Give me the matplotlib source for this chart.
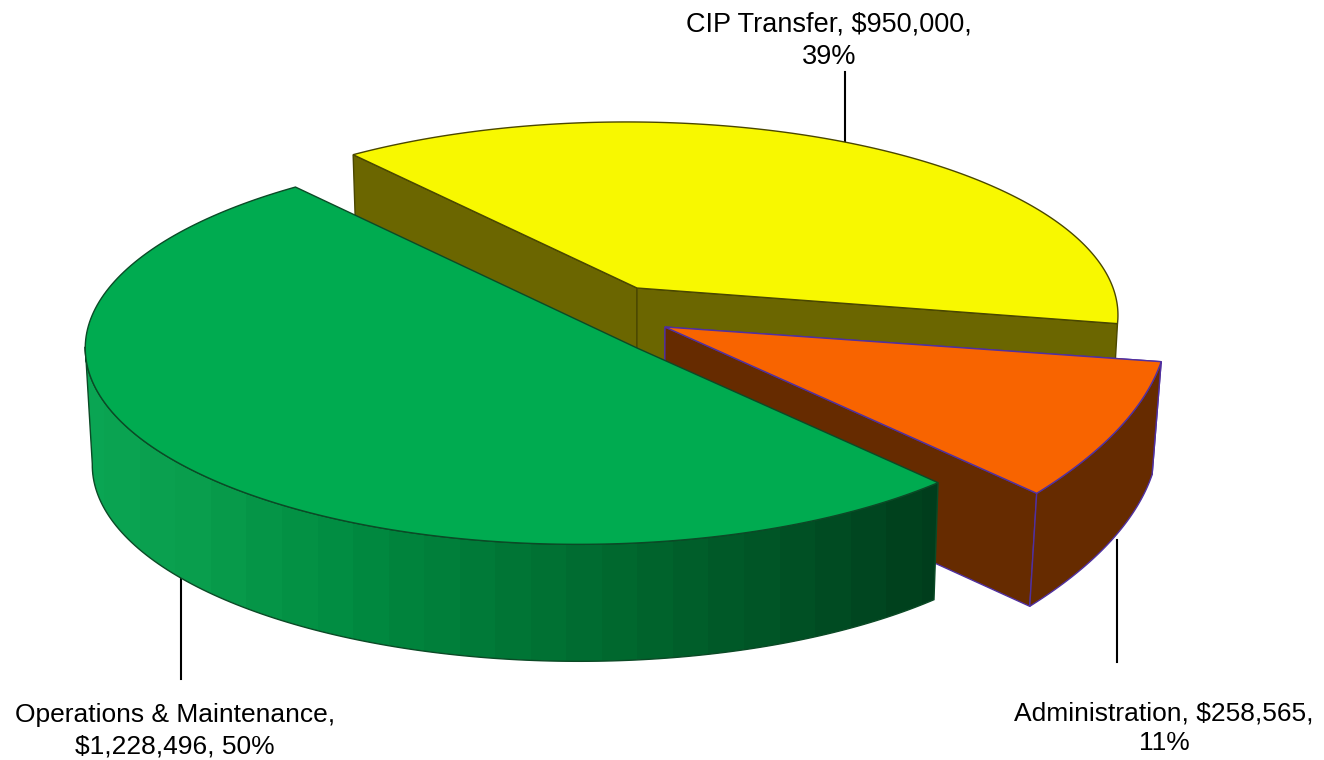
import numpy as np
import matplotlib
matplotlib.use("Agg")
import matplotlib.pyplot as plt
from matplotlib.colors import LinearSegmentedColormap
from matplotlib.patches import Polygon

plt.rcParams['font.family'] = ['Liberation Sans', 'DejaVu Sans']

categories = ["Operations & Maintenance", "CIP Transfer", "Administration"]
amounts = [1228496, 950000, 258565]
percents = ["50%", "39%", "11%"]

top_colors = ["#00ab50", "#f8f800", "#f86400"]
side_colors = ["#00853f", "#6b6600", "#662b00"]
edge_colors = ["#0b4a26", "#4a4700", "#5030a0"]

# perspective of each slice, fitted by eye: centre in pixels, scale, axes, horizon terms
shapes = [
    dict(c=(637, 348), s=1.0, a=(320.0, 147.0), b=(-367.6, 128.5), k=0.0778, m=-0.087, h=117, sx=0.987),
    dict(c=(637, 288), s=1.0, a=(315.4, 144.4), b=(-369.7, 122.3), k=-0.0933, m=-0.1062, h=110, sx=0.987),
    dict(c=(665, 327), s=1.585, a=(320.0, 147.0), b=(-367.6, 128.5), k=0.38, m=-0.378, h=113, sx=0.983),
]


def project(theta, shape):
    u, v = np.cos(theta), np.sin(theta)
    w = 1 + shape['k'] * u + shape['m'] * v
    x = shape['c'][0] + shape['s'] * (shape['a'][0] * u + shape['b'][0] * v) / w
    y = shape['c'][1] + shape['s'] * (shape['a'][1] * u + shape['b'][1] * v) / w
    return np.column_stack([x, y])


def drop(pts, shape):
    out = pts.copy().astype(float)
    out[:, 0] = 627 + (out[:, 0] - 627) * shape['sx']
    out[:, 1] += shape['h']
    return out


fig = plt.figure(figsize=(13.24, 7.6), dpi=100)
ax = fig.add_axes([0, 0, 1, 1])

fracs = np.array(amounts) / sum(amounts)
edges = np.deg2rad(-0.75 + np.concatenate([[0], np.cumsum(fracs)]) * 360)

rims = []
for i in range(3):
    rims.append(project(np.linspace(edges[i], edges[i + 1], 200), shapes[i]))


def draw_inner(i, z):
    shape = shapes[i]
    rim = rims[i]
    c = np.array([shape['c']], dtype=float)
    for p in [rim[:1], rim[-1:]]:
        quad = np.vstack([c, p, drop(p, shape), drop(c, shape)])
        ax.add_patch(Polygon(quad, closed=True, fc=side_colors[i], ec=edge_colors[i],
                             lw=1.0, zorder=z))


def draw_top(i, z):
    c = np.array([shapes[i]['c']], dtype=float)
    ax.add_patch(Polygon(np.vstack([c, rims[i]]), closed=True, fc=top_colors[i],
                         ec=edge_colors[i], lw=1.0, zorder=z))


# yellow at the back
draw_inner(1, 1)
draw_top(1, 2)

# orange in the middle
draw_inner(2, 3)
outer = np.vstack([rims[2], drop(rims[2], shapes[2])[::-1]])
ax.add_patch(Polygon(outer, closed=True, fc=side_colors[2], ec=edge_colors[2], lw=1.0, zorder=4))
draw_top(2, 5)

# green in front, wall only up to the leftmost point of the rim, shaded left to right
front = rims[0][:np.argmin(rims[0][:, 0]) + 1]
outer = np.vstack([front, drop(front, shapes[0])[::-1]])
cmap = LinearSegmentedColormap.from_list("wall", [(0, "#0aa553"), (0.12, "#0a9f4e"), (0.32, "#008a40"),
                                                  (0.62, "#00692f"), (1, "#003d1c")])
grad = np.round(np.linspace(0, 1, 854) * 24) / 24
img = ax.imshow(grad[None, :], extent=[86, 940, 700, 300], cmap=cmap, vmin=0, vmax=1,
                aspect='auto', zorder=6, interpolation='nearest')
clip = Polygon(outer, closed=True, transform=ax.transData, fc='none', ec=edge_colors[0], lw=1.0, zorder=7)
ax.add_patch(clip)
img.set_clip_path(clip)
draw_top(0, 8)

# leader lines
ax.plot([845, 845], [72, 143], color='black', lw=1.5, zorder=0)
ax.plot([181, 181], [574, 679], color='black', lw=1.5, zorder=0)
ax.plot([1117, 1117], [540, 662], color='black', lw=1.5, zorder=0)

# labels
ax.text(829, 41, f"{categories[1]}, ${amounts[1]:,},\n{percents[1]}", ha='center', va='center', fontsize=19.5, linespacing=1.31)
ax.text(175, 731, f"{categories[0]},\n${amounts[0]:,}, {percents[0]}", ha='center', va='center', fontsize=19, linespacing=1.37)
ax.text(1164, 728, f"{categories[2]}, ${amounts[2]:,},\n{percents[2]}", ha='center', va='center', fontsize=19, linespacing=1.28)

ax.set_xlim(0, 1324)
ax.set_ylim(760, 0)
ax.axis('off')

fig.savefig("out.png", dpi=100)
